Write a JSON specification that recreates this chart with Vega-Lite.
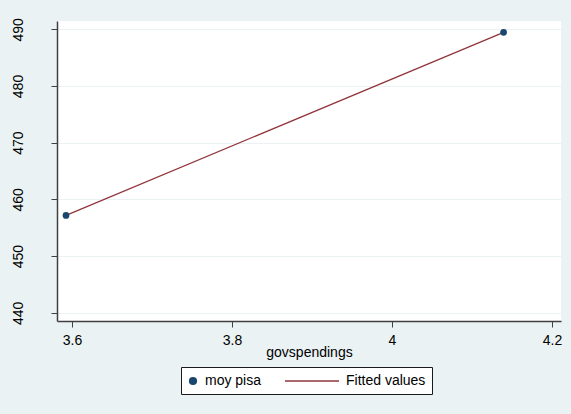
{
  "$schema": "https://vega.github.io/schema/vega-lite/v6.json",
  "width": 504,
  "height": 300,
  "autosize": {"type": "none"},
  "padding": {"left": 57, "top": 21, "right": 10, "bottom": 93},
  "background": "#eaf2f3",
  "config": {
    "view": {"fill": "white", "stroke": null},
    "font": "Liberation Sans",
    "axis": {
      "domainColor": "#404040",
      "domainWidth": 1.5,
      "tickColor": "#404040",
      "tickWidth": 1,
      "tickSize": 6,
      "labelFont": "Liberation Sans",
      "labelFontSize": 14,
      "labelColor": "black",
      "titleFont": "Liberation Sans",
      "titleFontSize": 14,
      "titleFontWeight": "normal",
      "titleColor": "black"
    }
  },
  "data": {
    "values": [
      {"govspendings": 3.5925, "moy_pisa": 457.18, "fitted": 457.18},
      {"govspendings": 4.1395, "moy_pisa": 489.47, "fitted": 489.47}
    ]
  },
  "encoding": {
    "x": {
      "field": "govspendings",
      "type": "quantitative",
      "scale": {"domain": [3.58125, 4.21125], "nice": false, "zero": false},
      "axis": {
        "title": "govspendings",
        "values": [3.6, 3.8, 4, 4.2],
        "format": "~g",
        "grid": false,
        "labelBaseline": "alphabetic",
        "labelPadding": 17,
        "labelFlush": false,
        "titleBaseline": "alphabetic",
        "titleY": 35
      }
    }
  },
  "layer": [
    {
      "mark": {"type": "line", "strokeWidth": 1.3, "clip": true},
      "encoding": {
        "y": {
          "field": "fitted",
          "type": "quantitative",
          "scale": {"domain": [438.56, 491.46], "nice": false, "zero": false},
          "axis": {
            "title": null,
            "values": [440, 450, 460, 470, 480, 490],
            "grid": true,
            "gridColor": "#eaf2f3",
            "gridWidth": 1.2,
            "labelAngle": 270,
            "labelAlign": "center",
            "labelBaseline": "alphabetic",
            "labelPadding": 29,
            "labelFlush": false
          }
        },
        "color": {
          "datum": "Fitted values",
          "type": "nominal",
          "scale": {
            "domain": ["moy pisa", "Fitted values"],
            "range": ["#1a476f", "#90353b"]
          },
          "legend": {
            "orient": "none",
            "legendX": 124,
            "legendY": 346,
            "direction": "horizontal",
            "title": null,
            "fillColor": "white",
            "strokeColor": "#1a1a1a",
            "padding": 6,
            "columnPadding": 20,
            "labelFont": "Liberation Sans",
            "labelFontSize": 14,
            "labelColor": "black",
            "encode": {
              "symbols": {
                "update": {
                  "shape": {"signal": "datum.value === 'moy pisa' ? 'circle' : 'stroke'"},
                  "size": {"signal": "datum.value === 'moy pisa' ? 45 : 2916"},
                  "x": {"signal": "datum.value === 'moy pisa' ? 6 : 27"},
                  "y": {"value": 8},
                  "fill": {"signal": "datum.value === 'moy pisa' ? '#1a476f' : 'transparent'"},
                  "stroke": {"signal": "datum.value === 'moy pisa' ? 'transparent' : '#90353b'"},
                  "strokeWidth": {"value": 1.5},
                  "opacity": {"value": 1}
                }
              },
              "labels": {
                "update": {
                  "x": {"signal": "datum.value === 'moy pisa' ? 18 : 61"},
                  "y": {"value": 8}
                }
              }
            }
          }
        }
      }
    },
    {
      "mark": {"type": "point", "filled": true, "size": 45, "opacity": 1},
      "encoding": {
        "y": {"field": "moy_pisa", "type": "quantitative"},
        "color": {"datum": "moy pisa", "type": "nominal"}
      }
    }
  ]
}
